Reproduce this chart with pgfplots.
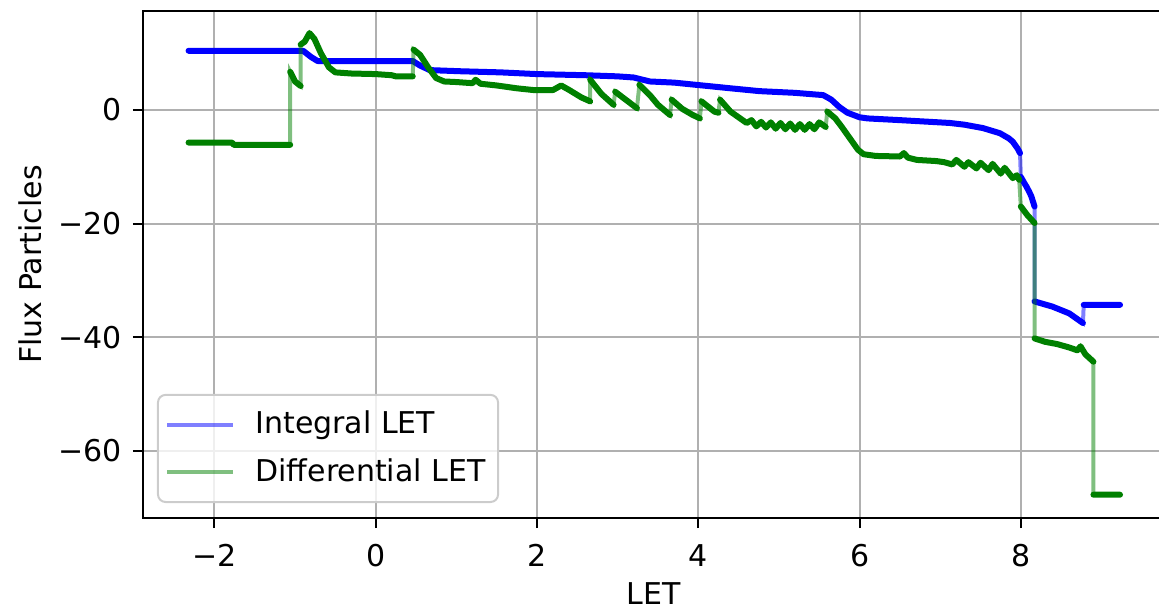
\documentclass[12pt,border=0pt]{standalone}
\usepackage{fontspec}
\setmainfont{DejaVu Sans}
\usepackage{pgfplots}
\usepackage{pgfplotstable}
\pgfplotsset{compat=1.18}
\definecolor{mplgreen}{RGB}{0,128,0}
\definecolor{mplblue}{RGB}{0,0,255}
\definecolor{gridgray}{HTML}{B0B0B0}
\pgfplotstableread{
x y
-2.32 10.4
-0.90 10.4
-0.80 9.3
-0.72 8.6
0.46 8.6
0.55 7.8
0.67 7.0
1.05 6.8
1.55 6.6
2.00 6.3
2.60 6.1
3.00 5.9
3.20 5.7
3.40 5.0
3.70 4.8
3.98 4.4
4.40 3.8
4.76 3.3
5.20 3.0
5.55 2.6
5.65 1.8
5.75 0.5
5.85 -0.5
6.00 -1.3
6.10 -1.5
6.50 -1.8
7.12 -2.3
7.30 -2.6
7.53 -3.2
7.74 -4.1
7.85 -5.0
7.90 -5.6
7.96 -6.8
7.99 -7.6
nan nan
8.00 -11.8
8.04 -12.8
8.07 -13.5
8.10 -14.3
8.13 -15.2
8.17 -17.0
nan nan
8.17 -33.7
8.39 -34.6
8.60 -35.8
8.77 -37.5
nan nan
8.78 -34.3
9.23 -34.3
}\bluedata
\pgfplotstableread{
x y
-2.32 -5.75
-1.78 -5.75
-1.76 -6.15
-1.06 -6.15
nan nan
-1.06 6.7
-1.00 5.0
-0.93 4.2
nan nan
-0.93 11.5
-0.88 12.0
-0.82 13.5
-0.76 12.5
-0.68 10.0
-0.58 7.5
-0.50 6.6
-0.30 6.4
0.00 6.3
0.20 6.1
0.25 5.9
0.46 5.9
nan nan
0.47 10.6
0.55 9.7
0.65 7.5
0.75 5.6
0.85 5.0
1.00 4.9
1.20 4.7
1.24 5.3
1.30 4.6
1.50 4.3
1.75 3.8
1.95 3.5
2.20 3.5
2.30 4.3
2.40 3.5
2.55 2.2
2.66 1.5
nan nan
2.66 5.3
2.80 2.8
2.95 0.9
nan nan
2.97 3.2
3.10 1.8
3.24 0.3
nan nan
3.27 4.4
3.40 2.6
3.50 0.9
3.65 -0.9
nan nan
3.67 1.8
3.80 0.2
3.92 -0.8
4.02 -1.5
nan nan
4.04 1.5
4.20 -0.3
4.25 -0.5
nan nan
4.27 1.8
4.40 -0.3
4.60 -2.3
4.66 -1.8
4.72 -2.9
4.78 -2.1
4.84 -3.1
4.90 -2.2
4.96 -3.3
5.02 -2.3
5.08 -3.4
5.14 -2.4
5.20 -3.5
5.26 -2.5
5.32 -3.5
5.38 -2.5
5.44 -3.4
5.50 -2.2
5.58 -3.0
nan nan
5.60 -0.3
5.70 -1.5
5.78 -3.0
5.88 -5.0
5.98 -7.0
6.05 -7.8
6.20 -8.1
6.50 -8.2
6.55 -7.6
6.60 -8.4
6.71 -8.8
6.95 -9.0
7.05 -9.2
7.15 -9.6
7.20 -8.8
7.30 -10.0
7.35 -9.2
7.45 -10.3
7.50 -9.3
7.60 -10.6
7.65 -9.5
7.75 -11.2
7.80 -10.2
7.90 -12.0
7.95 -11.5
7.98 -12.3
nan nan
8.00 -17.0
8.08 -18.5
8.17 -19.9
nan nan
8.17 -40.2
8.30 -40.8
8.45 -41.2
8.60 -41.8
8.70 -42.3
8.74 -41.6
8.80 -43.0
8.90 -44.3
nan nan
8.90 -67.7
9.23 -67.7
}\greendata
\begin{document}
\begin{tikzpicture}
\begin{axis}[
 scale only axis, width=408.4pt, height=202.8pt,
 xmin=-2.885, xmax=9.775, ymin=-71.8, ymax=17.4,
 xtick={-2,0,2,4,6,8}, xticklabels={−2,0,2,4,6,8},
 ytick={-60,-40,-20,0}, yticklabels={−60,−40,−20,0},
 xtick pos=bottom, ytick pos=left,
 tick align=outside, major tick length=4pt,
 tick style={black, line width=0.8pt},
 xticklabel style={yshift=-2.4pt},
 yticklabel style={xshift=-0.4pt},
 grid=major, grid style={gridgray, line width=0.8pt},
 axis line style={line width=0.8pt},
 /pgf/number format/assume math mode=true,
 xlabel={LET}, ylabel={Flux Particles},
 every axis x label/.style={at={(axis description cs:0.5,-0.150)}, anchor=center},
 every axis y label/.style={at={(axis description cs:-0.1107,0.5)}, anchor=center, rotate=90},
 legend cell align=left,
 legend image code/.code={\draw[#1] (0pt,0pt) -- (26.4pt,0pt);},
 legend style={at={(axis description cs:0,0)}, anchor=south west, xshift=5.6pt, yshift=6pt,
   draw=black!20, line width=0.8pt, rounded corners=3pt, fill=white, fill opacity=0.8, text opacity=1,
   inner xsep=3pt, inner ysep=4.5pt, row sep=4pt, column sep=6pt, nodes={inner sep=2pt}},
]
\addplot[mplblue, line width=1.6pt, opacity=0.5, unbounded coords=discard] table {\bluedata};
\addlegendentry{Integral LET}
\addplot[forget plot, mplblue, line width=2.4pt, line cap=round, line join=round, unbounded coords=jump] table {\bluedata};
\addplot[mplgreen, line width=1.6pt, opacity=0.5, unbounded coords=discard] table {\greendata};
\addlegendentry{Differential LET}
\addplot[forget plot, mplgreen, line width=2.4pt, line cap=round, line join=round, unbounded coords=jump] table {\greendata};
\end{axis}
\pgfresetboundingbox
\path[use as bounding box] (-57.2pt,-36.8pt) rectangle (406.4pt,207.2pt);
\end{tikzpicture}
\end{document}
